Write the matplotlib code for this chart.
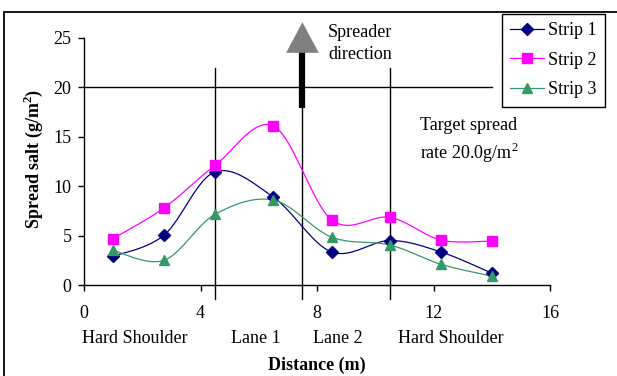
"""
Spread salt across the carriageway for three strips, recreated as a
static chart (out.png, 617x376).
"""

import numpy as np
import matplotlib
matplotlib.use('Agg')
import matplotlib.pyplot as plt
import matplotlib.transforms as mtransforms
from matplotlib.patches import Polygon, Rectangle

plt.rcParams['font.family'] = ['Liberation Serif', 'DejaVu Serif']
plt.rcParams['mathtext.fontset'] = 'custom'
plt.rcParams['mathtext.rm'] = 'Liberation Serif'
plt.rcParams['mathtext.bf'] = 'Liberation Serif:bold'

# ── data ───────────────────────────────────────────────────────────────────
DISTANCE = [1.0, 2.75, 4.5, 6.5, 8.5, 10.5, 12.25, 14.0]
STRIP_1 = [2.9, 5.05, 11.45, 8.9, 3.35, 4.5, 3.35, 1.2]
STRIP_2 = [4.7, 7.8, 12.1, 16.1, 6.6, 6.85, 4.55, 4.45]
STRIP_3 = [3.5, 2.5, 7.15, 8.6, 4.85, 4.05, 2.1, 0.9]

SERIES = [
    ('Strip 1', STRIP_1, '#000080', 'D', 6.0),
    ('Strip 2', STRIP_2, '#FF00FF', 's', 6.5),
    ('Strip 3', STRIP_3, '#339966', '^', 7.5),
]

LANE_LABELS = ['Hard Shoulder', 'Lane 1', 'Lane 2', 'Hard Shoulder']
LANE_CENTRES = [1.75, 5.9, 8.7, 12.6]
LANE_EDGES = [4.5, 7.5, 10.5]
TARGET_RATE = 20.0
TARGET_END = 14.0

FS = 13


def smooth(x, y, n=24):
    """Excel-style smoothed line (Catmull-Rom as cubic Bezier)."""
    x = np.asarray(x, float)
    y = np.asarray(y, float)
    px = np.concatenate([[x[0]], x, [x[-1]]])
    py = np.concatenate([[y[0]], y, [y[-1]]])
    t = np.linspace(0, 1, n)
    xs, ys = [], []
    for i in range(1, len(x)):
        x0, x1, x2, x3 = px[i - 1], px[i], px[i + 1], px[i + 2]
        y0, y1, y2, y3 = py[i - 1], py[i], py[i + 1], py[i + 2]
        cx1, cy1 = x1 + (x2 - x0) / 6, y1 + (y2 - y0) / 6
        cx2, cy2 = x2 - (x3 - x1) / 6, y2 - (y3 - y1) / 6
        b0, b1, b2, b3 = (1 - t) ** 3, 3 * (1 - t) ** 2 * t, 3 * (1 - t) * t ** 2, t ** 3
        xs.append(b0 * x1 + b1 * cx1 + b2 * cx2 + b3 * x2)
        ys.append(b0 * y1 + b1 * cy1 + b2 * cy2 + b3 * y2)
    return np.concatenate(xs), np.concatenate(ys)


fig = plt.figure(figsize=(6.17, 3.76), dpi=100)
fig.patch.set_facecolor('white')
ax = fig.add_axes([84 / 617, 1 - 285 / 376, 466 / 617, 247 / 376])

# outer border and the heading cut off by the top edge
fig.add_artist(Rectangle((4 / 617, -0.2), 1.2, 1.2 - 12 / 376,
                         transform=fig.transFigure, fill=False,
                         edgecolor='black', linewidth=1.3))
fig.text(0.09, 1 + 7 / 376, '(b), by joint spreading, right-hand application',
         fontsize=17, fontweight='bold', ha='left', va='baseline')

for label, vals, colour, marker, ms in SERIES:
    sx, sy = smooth(DISTANCE, vals)
    ax.plot(sx, sy, color=colour, linewidth=0.9, zorder=3)
    ax.plot(DISTANCE, vals, linestyle='none', marker=marker, markersize=ms,
            color=colour, zorder=4)
    # proxy for the legend (line + marker)
    ax.plot([], [], color=colour, linewidth=0.9, marker=marker,
            markersize=ms, label=label)

# target rate line and lane boundaries
ax.plot([0, TARGET_END], [TARGET_RATE, TARGET_RATE], color='black',
        linewidth=1.0, zorder=2)
for xe in LANE_EDGES:
    ax.plot([xe, xe], [-1.4, 22.0], color='black', linewidth=1.0,
            clip_on=False, zorder=2)

# spreader direction arrow
ax.plot([7.5, 7.5], [17.9, 23.6], color='black', linewidth=4.5,
        solid_capstyle='butt', clip_on=False, zorder=5)
ax.add_patch(Polygon([[7.5 - 0.56, 23.5], [7.5 + 0.56, 23.5], [7.5, 26.6]],
                     closed=True, facecolor='#808080', edgecolor='none',
                     clip_on=False, zorder=5))
ax.text(8.38, 25.1, 'Spreader', fontsize=FS, ha='left', va='baseline')
ax.text(8.38, 22.85, 'direction', fontsize=FS, ha='left', va='baseline')
ax.text(11.55, 15.7, 'Target spread', fontsize=FS, ha='left', va='baseline')
ax.text(11.55, 12.75, 'rate 20.0g/m$^2$', fontsize=FS, ha='left',
        va='baseline')

ax.set_xlim(0, 16)
ax.set_ylim(0, 25)
ax.set_xticks(range(0, 17, 4))
ax.set_yticks(range(0, 26, 5))
ax.tick_params(axis='both', labelsize=FS, direction='out', length=4.5,
               width=1.0, colors='black')
ax.tick_params(axis='x', pad=10)
ax.tick_params(axis='y', pad=4.5)
ax.spines['top'].set_visible(False)
ax.spines['right'].set_visible(False)
for side in ('left', 'bottom'):
    ax.spines[side].set_linewidth(1.0)

lane_tf = mtransforms.blended_transform_factory(ax.transData, fig.transFigure)
for xc, lab in zip(LANE_CENTRES, LANE_LABELS):
    ax.text(xc, 1 - 343 / 376, lab, transform=lane_tf, fontsize=FS,
            ha='center', va='baseline')

fig.text(317 / 617, 1 - 365 / 376, 'Distance (m)', fontsize=FS,
         fontweight='bold', ha='center', va='center')
fig.text(33 / 617, 1 - 159 / 376, r'Spread salt (g/m$^{\mathbf{2}}$)',
         fontsize=FS, fontweight='bold', rotation=90, ha='center',
         va='center')

leg = ax.legend(loc='upper right', bbox_to_anchor=(605 / 617, 1 - 14 / 376),
                bbox_transform=fig.transFigure, fontsize=FS, frameon=True,
                fancybox=False, framealpha=1, edgecolor='black',
                handlelength=1.9, handletextpad=0.22, labelspacing=0.7,
                borderpad=0.45, borderaxespad=0)
leg.get_frame().set_linewidth(1.0)

plt.savefig('out.png', dpi=100)
plt.close()
